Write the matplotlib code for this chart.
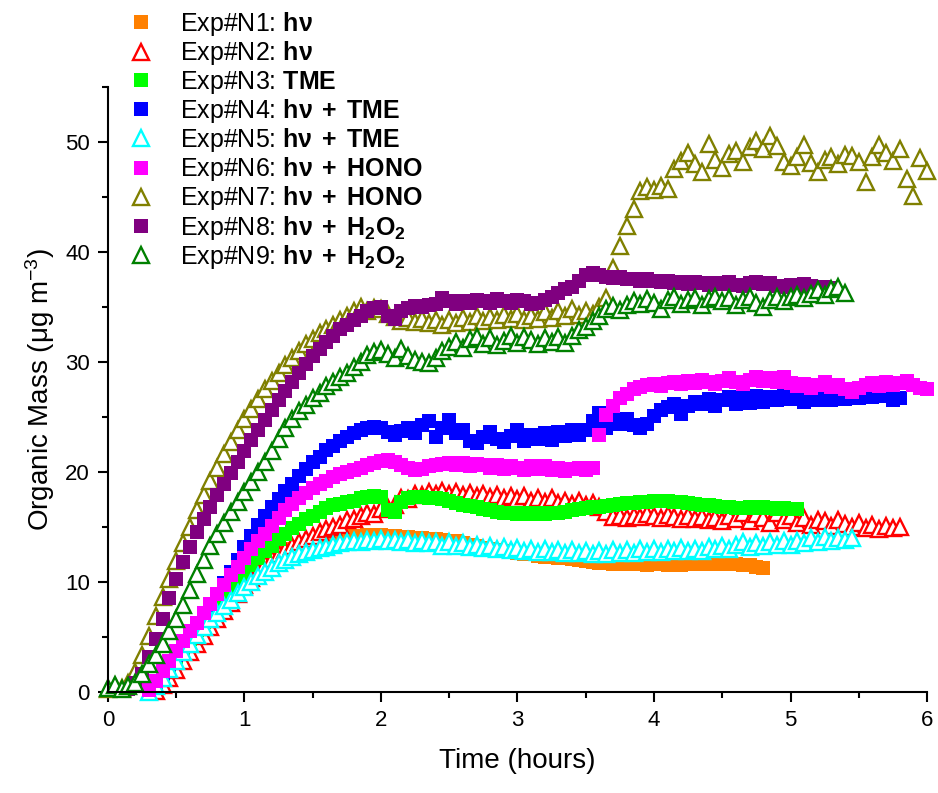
import numpy as np
import matplotlib
matplotlib.use('Agg')
import matplotlib.pyplot as plt
from matplotlib.ticker import MultipleLocator

plt.rcParams['font.family'] = ['Liberation Sans', 'DejaVu Sans']
plt.rcParams['mathtext.fontset'] = 'custom'
plt.rcParams['mathtext.rm'] = 'Liberation Sans'
plt.rcParams['mathtext.it'] = 'Liberation Sans:italic'
plt.rcParams['mathtext.bf'] = 'Liberation Sans:bold'

STEP = 0.05  # sampling interval of the measurements (hours)

# Exp#N1: hv (orange squares), starts at 0.30 h
n1_t0 = 0.30
n1 = [0.2, 0.8, 1.5, 2.3, 3.0, 3.8, 4.6, 5.3, 6.1, 6.8, 7.5, 8.1, 8.8, 9.4, 10.0,
      10.6, 11.1, 11.6, 12.0, 12.4, 12.7, 13.0, 13.2, 13.4, 13.6, 13.7, 13.9, 14.0,
      14.1, 14.1, 14.2, 14.2, 14.3, 14.2, 14.3, 14.2, 14.2, 14.1, 14.1, 14.0, 14.0,
      13.9, 13.9, 13.8, 13.7, 13.7, 13.5, 13.4, 13.3, 13.1, 13.0, 12.9, 12.8, 12.7,
      12.6, 12.5, 12.5, 12.4, 12.3, 12.3, 12.2, 12.2, 12.1, 12.0, 11.9, 11.8, 11.7,
      11.7, 11.6, 11.7, 11.6, 11.7, 11.6, 11.5, 11.6, 11.6, 11.5, 11.6, 11.5, 11.6,
      11.7, 11.6, 11.6, 11.7, 11.6, 11.7, 11.6, 11.5, 11.5, 11.4, 11.3]

# Exp#N2: hv (red open triangles), starts at 0.35 h
n2_t0 = 0.35
n2 = [0.1, 0.6, 1.3, 2.0, 2.8, 3.6, 4.4, 5.1, 5.9, 6.6, 7.4, 8.1, 8.9, 9.7, 10.4,
      11.0, 11.6, 12.1, 12.5, 12.9, 13.3, 13.6, 13.9, 14.2, 14.5, 14.8, 15.0, 15.2,
      15.6, 15.7, 16.0, 16.3, 16.2, 16.6, 16.7, 17.0, 17.6, 17.5, 18.0, 17.9, 18.2,
      18.0, 18.3, 18.0, 18.2, 17.9, 18.1, 17.8, 18.0, 17.7, 17.9, 17.6, 17.8, 17.5,
      17.8, 17.4, 17.6, 17.3, 17.6, 17.2, 17.4, 17.1, 17.4, 17.0, 17.2, 16.8, 16.4,
      15.9, 16.0, 15.8, 16.0, 15.9, 16.2, 16.0, 15.8, 16.1, 15.9, 15.7, 16.0, 15.7,
      15.9, 15.6, 15.8, 15.5, 16.0, 15.7, 16.3, 15.5, 16.2, 15.8, 15.4, 16.3, 15.6,
      16.0, 15.4, 15.8, 15.2, 15.6, 15.5, 15.1, 15.6, 15.3, 15.0, 15.4, 14.9, 15.2,
      14.8, 15.1, 14.9, 15.0]

# Exp#N3: TME (green squares), starts at 0.30 h
n3_t0 = 0.30
n3 = [0.1, 0.8, 1.6, 2.4, 3.2, 4.0, 4.8, 5.6, 6.4, 7.1, 7.9, 8.6, 9.3, 10.0, 10.8,
      11.5, 12.2, 12.8, 13.3, 13.9, 14.4, 14.9, 15.3, 15.7, 16.0, 16.4, 16.7, 17.0,
      17.1, 17.3, 17.4, 17.6, 17.7, 17.8, 17.7, 16.5, 16.4, 17.3, 17.6, 17.7, 17.7,
      17.6, 17.6, 17.5, 17.4, 17.2, 17.0, 16.9, 16.8, 16.6, 16.5, 16.4, 16.3, 16.3,
      16.2, 16.3, 16.2, 16.3, 16.2, 16.3, 16.3, 16.4, 16.5, 16.6, 16.7, 16.8, 16.8,
      16.9, 17.0, 17.1, 17.2, 17.2, 17.3, 17.3, 17.4, 17.4, 17.4, 17.3, 17.3, 17.2,
      17.1, 17.0, 17.0, 16.9, 16.8, 16.8, 16.7, 16.7, 16.8, 16.7, 16.8, 16.7, 16.6,
      16.7, 16.6, 16.6]

# Exp#N4: hv + TME (blue squares), starts at 0.30 h
n4_t0 = 0.30
n4 = [0.2, 0.9, 1.7, 2.5, 3.4, 4.3, 5.2, 6.1, 7.0, 7.9, 8.9, 9.9, 10.9, 12.0, 13.2,
      14.2, 15.2, 16.0, 16.8, 17.5, 18.3, 18.9, 19.6, 20.3, 20.9, 21.4, 22.0, 22.4,
      22.8, 23.2, 23.5, 23.8, 24.0, 24.1, 24.0, 23.6, 23.4, 23.7, 24.0, 23.5, 24.3,
      24.6, 23.2, 24.0, 24.7, 23.5, 23.8, 22.8, 22.6, 23.2, 23.6, 23.0, 22.7, 23.3,
      23.8, 22.8, 23.4, 23.0, 23.5, 22.9, 23.6, 23.3, 23.8, 23.4, 23.8, 24.6, 25.4,
      24.0, 24.7, 24.4, 24.8, 24.3, 24.0, 24.4, 25.1, 25.6, 25.9, 26.2, 25.3, 26.0,
      26.4, 26.2, 26.6, 26.0, 26.5, 26.8, 26.2, 26.7, 26.3, 26.9, 26.4, 26.8, 26.5,
      26.9, 26.6, 27.0, 26.4, 26.8, 26.5, 27.1, 26.5, 26.8, 26.6, 27.0, 26.7, 27.1,
      26.8, 27.2, 26.9, 26.5, 26.7]

# Exp#N5: hv + TME (cyan open triangles), starts at 0.30 h
n5_t0 = 0.30
n5 = [0.0, 0.5, 1.3, 2.1, 2.8, 3.6, 4.4, 5.2, 5.9, 6.6, 7.2, 7.8, 8.4, 9.0, 9.5,
      10.0, 10.5, 10.9, 11.3, 11.7, 12.0, 12.3, 12.5, 12.7, 12.9, 13.1, 13.2, 13.4,
      13.5, 13.6, 13.7, 13.6, 13.8, 13.7, 13.9, 13.7, 13.8, 13.6, 13.8, 13.5, 13.7,
      13.5, 13.6, 13.3, 13.6, 13.3, 13.5, 13.2, 13.4, 13.1, 13.3, 13.0, 13.2, 12.9,
      13.1, 12.8, 13.0, 12.7, 13.0, 12.7, 12.9, 12.6, 12.9, 12.6, 12.8, 12.5, 12.8,
      12.5, 12.9, 12.6, 12.9, 12.6, 13.0, 12.7, 13.0, 12.7, 13.0, 12.8, 13.1, 12.8,
      13.0, 12.8, 13.2, 13.0, 13.3, 13.0, 13.4, 13.6, 13.2, 13.5, 13.3, 13.6, 13.4,
      13.7, 13.4, 13.7, 13.5, 14.0, 13.6, 14.1, 13.7, 14.0, 13.8, 14.0]

# Exp#N6: hv + HONO (magenta squares), starts at 0.30 h
n6_t0 = 0.30
n6 = [0.2, 1.0, 1.9, 2.8, 3.7, 4.6, 5.5, 6.3, 7.2, 8.0, 8.9, 9.7, 10.6, 11.4, 12.2,
      13.0, 13.7, 14.4, 15.1, 15.8, 16.5, 17.1, 17.6, 18.1, 18.5, 18.9, 19.2, 19.5,
      19.8, 20.0, 20.2, 20.4, 20.6, 20.8, 21.0, 21.1, 20.9, 20.6, 20.4, 20.2, 20.3,
      20.5, 20.6, 20.7, 20.8, 20.6, 20.8, 20.5, 20.7, 20.6, 20.4, 20.6, 20.3, 20.5,
      20.4, 20.2, 20.5, 20.3, 20.5, 20.2, 20.4, 20.1, 20.3, 20.4, 20.2, 20.4, 23.4,
      25.2, 26.0, 26.7, 27.1, 27.5, 27.7, 27.9, 28.0, 27.8, 28.1, 28.2, 28.0, 28.3,
      28.1, 28.4, 28.2, 28.0, 28.3, 28.5, 28.2, 28.0, 28.4, 28.6, 28.3, 28.5, 28.2,
      28.6, 28.1, 27.8, 28.0, 27.6, 27.9, 28.2, 27.7, 27.9, 27.5, 27.3, 27.6, 27.9,
      28.1, 27.8, 28.2, 27.9, 28.1, 28.3, 27.9, 27.6, 27.5]

# Exp#N7: hv + HONO (olive open triangles), starts at 0.00 h
n7_t0 = 0.0
n7 = [0.3, 0.5, 0.4, 0.8, 1.8, 3.4, 5.1, 6.9, 8.6, 10.3, 11.9, 13.5, 15.0, 16.5,
      17.9, 19.2, 20.4, 21.6, 22.7, 23.8, 24.8, 25.7, 26.6, 27.5, 28.3, 29.0, 29.7,
      30.4, 31.0, 31.6, 32.1, 32.6, 33.0, 33.4, 33.8, 34.2, 34.6, 35.0, 34.6, 34.9,
      34.8, 34.4, 34.1, 33.7, 34.0, 33.6, 33.9, 33.5, 33.8, 33.4, 33.8, 33.5, 34.0,
      33.6, 34.2, 33.7, 34.1, 33.8, 34.3, 33.9, 34.4, 33.8, 34.2, 33.9, 34.5, 34.0,
      34.6, 34.2, 34.8, 34.3, 34.6, 34.4, 35.0, 35.8, 38.5, 40.5, 42.4, 43.9, 45.5,
      45.9, 45.6, 46.0, 45.7, 47.5, 48.3, 49.0, 48.0, 47.3, 49.8, 48.4, 47.6, 48.9,
      49.2, 48.2, 49.5, 50.1, 49.4, 50.5, 49.6, 48.2, 47.8, 48.6, 49.7, 48.1, 47.3,
      48.4, 48.6, 48.0, 48.8, 48.7, 48.2, 46.4, 48.6, 49.7, 49.0, 48.3, 49.4, 46.6,
      45.1, 48.5, 47.4]

# Exp#N8: hv + H2O2 (purple squares), starts at 0.15 h
n8_t0 = 0.15
n8 = [0.3, 0.8, 1.6, 3.2, 4.8, 6.6, 8.5, 10.3, 11.8, 13.2, 14.5, 15.7, 16.8, 17.9,
      18.9, 19.9, 20.9, 21.9, 22.9, 23.8, 24.7, 25.6, 26.5, 27.4, 28.2, 29.0, 29.8,
      30.5, 31.2, 31.8, 32.4, 33.0, 33.4, 33.8, 34.2, 34.6, 34.9, 35.0, 34.2, 33.9,
      34.6, 34.9, 35.1, 35.0, 35.2, 35.3, 35.8, 35.5, 35.3, 35.5, 35.4, 35.6, 35.5,
      35.4, 35.7, 35.5, 35.4, 35.6, 35.5, 35.3, 35.4, 35.6, 35.9, 36.3, 36.6, 36.8,
      37.4, 37.9, 38.1, 37.9, 37.7, 37.6, 37.7, 37.5, 37.5, 37.4, 37.5, 37.4, 37.3,
      37.4, 37.2, 37.3, 37.1, 37.3, 37.2, 37.0, 37.2, 37.1, 37.3, 37.0, 36.9, 37.2,
      37.3, 37.1, 37.2, 36.9, 36.8, 37.0, 36.9, 37.1, 36.9, 36.8, 36.8, 36.7]

# Exp#N9: hv + H2O2 (dark green open triangles), starts at 0.00 h
n9_t0 = 0.0
n9 = [0.4, 0.6, 0.3, 0.5, 0.8, 1.6, 2.5, 3.4, 4.4, 5.5, 6.6, 7.9, 9.3, 10.7, 12.0,
      13.3, 14.4, 15.4, 16.4, 17.3, 18.2, 19.1, 20.0, 20.9, 21.9, 23.0, 24.0, 24.8,
      25.5, 26.1, 26.7, 27.2, 27.8, 28.2, 28.6, 29.0, 29.5, 30.0, 30.6, 30.9, 31.1,
      30.7, 30.4, 31.2, 30.5, 30.2, 30.0, 29.9, 30.4, 31.0, 31.4, 31.8, 31.3, 32.1,
      32.3, 31.6, 32.2, 31.5, 31.9, 32.4, 31.7, 32.3, 32.0, 31.6, 32.2, 31.8, 32.3,
      31.7, 32.4, 32.9, 33.2, 33.7, 34.2, 34.8, 35.1, 34.7, 35.2, 35.5, 35.3, 35.7,
      35.4, 34.8, 35.6, 35.9, 35.3, 35.6, 35.8, 35.2, 35.7, 35.9, 35.5, 35.8, 35.2,
      35.6, 35.9, 35.4, 35.0, 35.6, 35.9, 35.5, 35.9, 36.1, 35.8, 36.2, 36.5, 36.1,
      36.6, 36.8, 36.3]

labels = [
    r'Exp#N1: $\mathbf{hν}$',
    r'Exp#N2: $\mathbf{hν}$',
    r'Exp#N3: $\mathbf{TME}$',
    r'Exp#N4: $\mathbf{hν\;+\;TME}$',
    r'Exp#N5: $\mathbf{hν\;+\;TME}$',
    r'Exp#N6: $\mathbf{hν\;+\;HONO}$',
    r'Exp#N7: $\mathbf{hν\;+\;HONO}$',
    r'Exp#N8: $\mathbf{hν\;+\;H_2O_2}$',
    r'Exp#N9: $\mathbf{hν\;+\;H_2O_2}$',
]
series = [(n1_t0, n1), (n2_t0, n2), (n3_t0, n3), (n4_t0, n4), (n5_t0, n5),
          (n6_t0, n6), (n7_t0, n7), (n8_t0, n8), (n9_t0, n9)]
colors = ['#FF8000', '#FF0000', '#00FF00', '#0000FF', '#00FFFF',
          '#FF00FF', '#808000', '#800080', '#008000']
markers = ['s', '^', 's', 's', '^', 's', '^', 's', '^']

fig = plt.figure(figsize=(9.38, 7.93), dpi=100)
ax = fig.add_axes([0.1151, 0.1274, 0.8732, 0.7629])

for (t0, vals), c, m, lab in zip(series, colors, markers, labels):
    t = t0 + STEP * np.arange(len(vals))
    if m == 's':
        ax.plot(t, vals, ls='none', marker='s', ms=10, mfc=c, mec=c, mew=0,
                clip_on=False, label=lab)
    else:
        ax.plot(t, vals, ls='none', marker='^', ms=11, mfc='white', mec=c,
                mew=1.7, clip_on=False, label=lab)

ax.set_xlim(0, 6)
ax.set_ylim(0, 55)
ax.xaxis.set_major_locator(MultipleLocator(1))
ax.xaxis.set_minor_locator(MultipleLocator(0.5))
ax.yaxis.set_minor_locator(MultipleLocator(5))
ax.set_yticks([0, 10, 20, 30, 40, 50])
for s in ['top', 'right']:
    ax.spines[s].set_visible(False)
for s in ['left', 'bottom']:
    ax.spines[s].set_linewidth(1.5)
ax.tick_params(which='major', direction='out', length=7, width=1.5,
               labelsize=16, pad=6)
ax.tick_params(which='minor', direction='out', length=4, width=1.5)

ax.set_xlabel('Time (hours)', fontsize=20, labelpad=12)
ax.set_ylabel('Organic Mass (μg m$^{-3}$)', fontsize=20, labelpad=6)

fig.legend(loc='upper left', bbox_to_anchor=(0.125, 1.0), frameon=False,
           fontsize=18, handletextpad=1.0, labelspacing=0.05,
           borderaxespad=0.0, handlelength=1.1)

fig.savefig('out.png', dpi=100)
